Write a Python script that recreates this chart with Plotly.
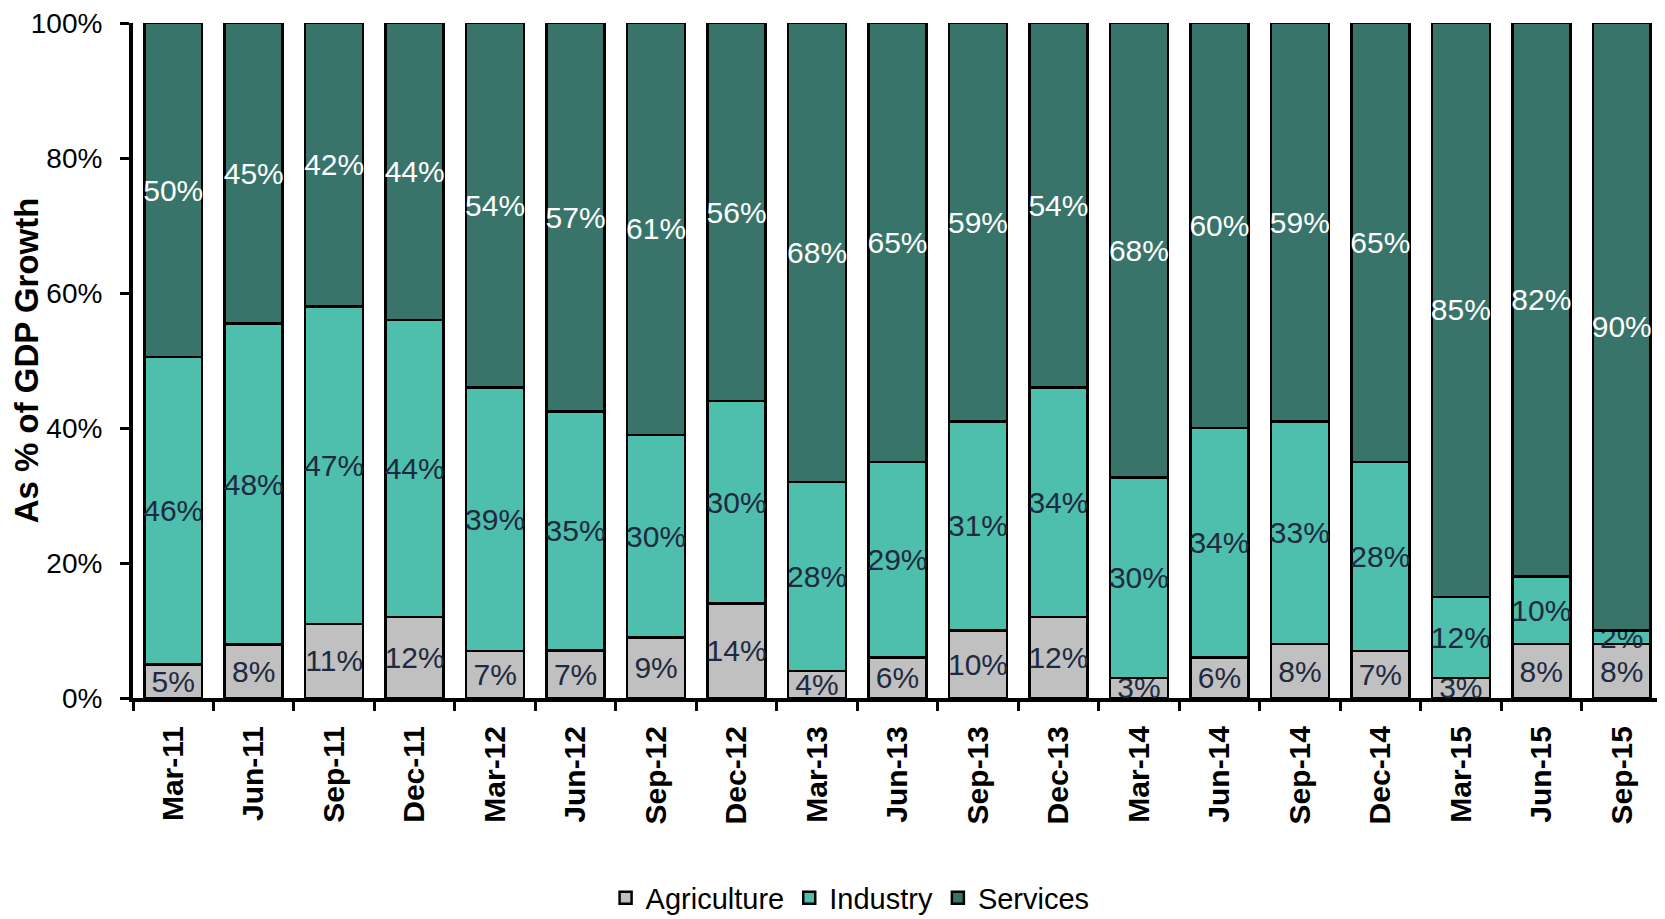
import plotly.graph_objects as go

quarters = ["Mar-11", "Jun-11", "Sep-11", "Dec-11", "Mar-12", "Jun-12", "Sep-12", "Dec-12",
            "Mar-13", "Jun-13", "Sep-13", "Dec-13", "Mar-14", "Jun-14", "Sep-14", "Dec-14",
            "Mar-15", "Jun-15", "Sep-15"]
agriculture = [5, 8, 11, 12, 7, 7, 9, 14, 4, 6, 10, 12, 3, 6, 8, 7, 3, 8, 8]
industry = [46, 48, 47, 44, 39, 35, 30, 30, 28, 29, 31, 34, 30, 34, 33, 28, 12, 10, 2]
services = [50, 45, 42, 44, 54, 57, 61, 56, 68, 65, 59, 54, 68, 60, 59, 65, 85, 82, 90]
y_ticks = [0, 20, 40, 60, 80, 100]

series = [
    ("Agriculture", agriculture, "#C0C0C0", "#1F2A40"),
    ("Industry", industry, "#4EBEAD", "#1F2A40"),
    ("Services", services, "#38746A", "#FFFFFF"),
]

fig = go.Figure()
for name, vals, color, tcolor in series:
    fig.add_trace(go.Bar(
        name=name, x=quarters, y=vals,
        text=[f"{v}%" for v in vals],
        texttemplate="%{text}",
        textposition="inside", insidetextanchor="middle", textangle=0,
        textfont=dict(family="Liberation Sans, Arial", size=30, color=tcolor),
        marker=dict(color=color, line=dict(color="#000000", width=2.5)),
        hoverinfo="skip",
    ))

# page body adds an 8px offset, so the figure is sized to end at the window edge
fig.update_layout(
    barmode="stack", barnorm="percent", bargap=0.28,
    width=1657, height=911,
    margin=dict(l=125, r=3, t=15, b=221, autoexpand=False),
    paper_bgcolor="white", plot_bgcolor="white",
    uniformtext=dict(minsize=30, mode="show"),
    font=dict(family="Liberation Sans, Arial", color="#000000"),
    legend=dict(orientation="h", x=0.469, xanchor="center", y=-0.296, yanchor="middle",
                font=dict(family="Liberation Sans Narrow, Liberation Sans", size=29, color="#000000"),
                itemwidth=30, traceorder="normal"),
    showlegend=True,
)
fig.update_xaxes(
    type="category", showline=True, linecolor="#000000", linewidth=4,
    ticks="outside", tickson="boundaries", ticklen=9, tickwidth=3, tickcolor="#000000",
    tickangle=-90, ticklabelstandoff=12, automargin=False, ticklabeloverflow="allow",
    tickfont=dict(family="Liberation Sans, Arial", size=30, color="#000000", weight="bold"),
    showgrid=False, zeroline=False,
)
fig.update_yaxes(
    range=[0, 100], tickvals=y_ticks, ticktext=[f"{t}%" for t in y_ticks],
    showline=True, linecolor="#000000", linewidth=4,
    ticks="outside", ticklen=9, tickwidth=3, tickcolor="#000000",
    ticklabelstandoff=12, automargin=False, ticklabeloverflow="allow",
    tickfont=dict(family="Liberation Sans, Arial", size=28, color="#000000"),
    showgrid=False, zeroline=False,
    title=dict(text="<b>As % of GDP Growth</b>", standoff=12,
               font=dict(family="Liberation Sans, Arial", size=33, color="#000000")),
)

fig.write_html("out.html")
